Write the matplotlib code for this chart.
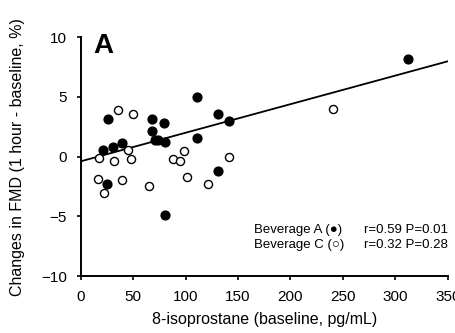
import matplotlib

matplotlib.use("Agg")
import matplotlib.pyplot as plt

plt.rcParams["font.family"] = ["Liberation Sans", "DejaVu Sans"]

# Beverage A (filled)
bev_a_x = [26.4, 21.0, 31.2, 39.1, 25.4, 68.0, 68.0, 70.9, 73.7, 79.5,
           80.4, 80.4, 110.6, 110.6, 131.3, 131.3, 141.1, 311.8]
bev_a_y = [3.18, 0.59, 0.84, 1.12, -2.29, 3.13, 2.15, 1.40, 1.40, 2.85,
           1.20, -4.86, 5.00, 1.59, 3.60, -1.17, 3.02, 8.16]

# Beverage C (open)
bev_c_x = [17.8, 16.2, 22.6, 31.5, 35.9, 39.1, 44.8, 47.7, 50.2, 65.5,
           88.0, 94.7, 98.9, 101.4, 121.4, 141.1, 240.9]
bev_c_y = [-0.08, -1.84, -3.07, -0.36, 3.94, -1.96, 0.56, -0.22, 3.60, -2.46,
           -0.22, -0.39, 0.45, -1.70, -2.26, -0.06, 3.97]

# regression line end points
fit_x = [0, 350]
fit_y = [-0.39, 7.99]

x_ticks = [0, 50, 100, 150, 200, 250, 300, 350]
y_ticks = [-10, -5, 0, 5, 10]

fig = plt.figure(figsize=(4.56, 3.33), dpi=100)
ax = fig.add_axes([0.177, 0.171, 0.805, 0.717])

ax.plot(fit_x, fit_y, color="black", linewidth=1.3, zorder=2)
ax.scatter(bev_a_x, bev_a_y, s=40, facecolor="black", edgecolor="black",
           linewidth=1.0, zorder=3)
ax.scatter(bev_c_x, bev_c_y, s=34, facecolor="white", edgecolor="black",
           linewidth=1.0, zorder=3)

ax.set_xlim(0, 350)
ax.set_ylim(-10, 10)
ax.set_xticks(x_ticks)
ax.set_yticks(y_ticks)
ax.tick_params(direction="out", length=3, width=1.2, labelsize=11)
ax.tick_params(axis="y", pad=7)
ax.tick_params(axis="x", pad=7)
for side in ["top", "right"]:
    ax.spines[side].set_visible(False)
for side in ["left", "bottom"]:
    ax.spines[side].set_linewidth(1.4)

ax.set_xlabel("8-isoprostane (baseline, pg/mL)", fontsize=11.5)
ax.set_ylabel("Changes in FMD (1 hour - baseline, %)", fontsize=11.5)
ax.xaxis.set_label_coords(0.5, -0.15)
ax.yaxis.set_label_coords(-0.152, 0.5)

ax.text(0.033, 1.018, "A", transform=ax.transAxes, fontsize=20,
        fontweight="bold", va="top", ha="left")

ax.text(0.472, 0.193, "Beverage A (●)", transform=ax.transAxes, fontsize=9.5,
        va="center", ha="left")
ax.text(0.472, 0.132, "Beverage C (○)", transform=ax.transAxes, fontsize=9.5,
        va="center", ha="left")
ax.text(1.0, 0.193, "r=0.59 P=0.01", transform=ax.transAxes, fontsize=9.5,
        va="center", ha="right")
ax.text(1.0, 0.132, "r=0.32 P=0.28", transform=ax.transAxes, fontsize=9.5,
        va="center", ha="right")

fig.savefig("out.png", dpi=100)
